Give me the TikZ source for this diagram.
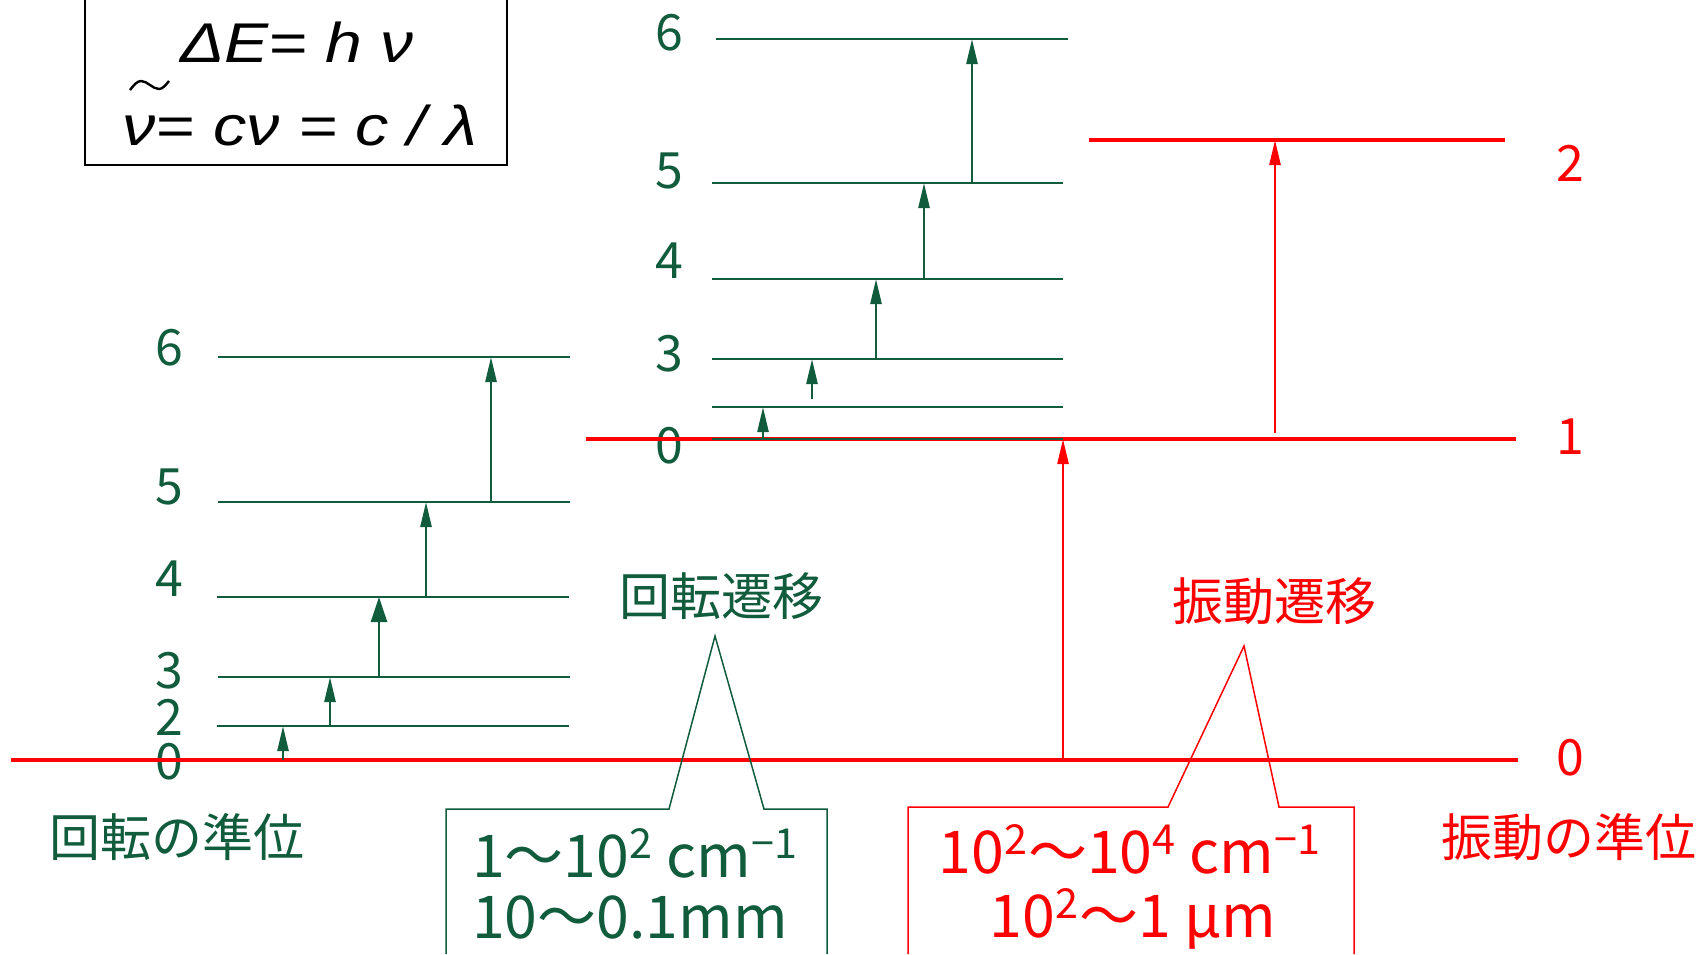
\documentclass[tikz,border=0pt]{standalone}
\usepackage{fontspec}
\setmainfont{Noto Sans CJK JP}
\newfontfamily\formfont{Liberation Sans}
\usetikzlibrary{arrows.meta}
\definecolor{rotg}{RGB}{17,92,61}
\definecolor{vibr}{RGB}{255,0,0}
\begin{document}
\begin{tikzpicture}[x=0.5pt,y=-0.5pt,
  rotlevel/.style={rotg,line width=1.35pt},
  viblevel/.style={vibr,line width=2pt},
  rotarrow/.style={rotg,line width=1.25pt,-{Triangle[length=12.5pt,width=5.5pt]}},
  rotarrowbig/.style={rotg,line width=1.25pt,-{Triangle[length=12.5pt,width=8pt]}},
  vibarrow/.style={vibr,line width=1.25pt,-{Triangle[length=12.5pt,width=5.5pt]}},
  lvlnum/.style={inner sep=0pt,font=\fontsize{25pt}{30pt}\selectfont},
  jplabel/.style={inner sep=0pt,font=\fontsize{25.5pt}{30pt}\selectfont},
  rangetext/.style={inner sep=0pt,anchor=base,font=\fontsize{29.5pt}{34pt}\selectfont},
  formula/.style={inner sep=0pt,anchor=base,font=\formfont\itshape\fontsize{28pt}{32pt}\selectfont},
  callout/.style={line width=0.75pt}
]
\useasboundingbox (0,0) rectangle (1706,954);

% formula box
\draw[line width=1.35pt] (85,0) -- (85,165) -- (507,165) -- (507,0);
\node[formula] (f1) at (297,62) {\scalebox{1.18}[1]{ΔE= h ν}};
\node[formula] (f2) at (300,145) {\scalebox{1.19}[1]{ν= cν = c / λ}};
\draw[line width=1.2pt] (130,90) sin (141,81) cos (150,85) sin (159,89) cos (169,81);

% level numbers (green)
\begin{scope}[rotg]
\node[lvlnum] (l6) at (169,348) {6};
\node[lvlnum] (l5) at (169,487) {5};
\node[lvlnum] (l4) at (169,579) {4};
\node[lvlnum] (l3) at (169,671) {3};
\node[lvlnum] (l2) at (169,717) {2};
\node[lvlnum] (l0) at (169,762) {0};
\node[lvlnum] (u6) at (669,33) {6};
\node[lvlnum] (u5) at (669,171) {5};
\node[lvlnum] (u4) at (669,261) {4};
\node[lvlnum] (u3) at (669,354) {3};
\node[lvlnum] (u0) at (669,446) {0};
\end{scope}

% rotational levels, left ladder
\draw[rotlevel] (218,357) -- (570,357);
\draw[rotlevel] (218,502) -- (570,502);
\draw[rotlevel] (217,597) -- (569,597);
\draw[rotlevel] (218,677) -- (570,677);
\draw[rotlevel] (217,726) -- (569,726);

% rotational levels, upper ladder
\draw[rotlevel] (716,39) -- (1068,39);
\draw[rotlevel] (712,183) -- (1063,183);
\draw[rotlevel] (712,279) -- (1063,279);
\draw[rotlevel] (712,359) -- (1063,359);
\draw[rotlevel] (712,407) -- (1063,407);

% vibrational levels
\draw[viblevel] (11,760) -- (1518,760);
\draw[viblevel] (586,439) -- (1516,439);
\draw[viblevel] (1089,140) -- (1505,140);
\draw[rotg,line width=0.9pt] (712,439) -- (1063,439);

% vibrational numbers
\node[lvlnum,vibr] (v2) at (1570,163) {2};
\node[lvlnum,vibr] (v1) at (1570,437) {1};
\node[lvlnum,vibr] (v0) at (1570,758) {0};

% arrow coordinates
\coordinate (a1s) at (283,760); \coordinate (a1e) at (283,726);
\coordinate (a2s) at (330,726); \coordinate (a2e) at (330,677);
\coordinate (a3s) at (379,677); \coordinate (a3e) at (379,597);
\coordinate (a4s) at (426,597); \coordinate (a4e) at (426,502);
\coordinate (a5s) at (491,502); \coordinate (a5e) at (491,357);
\coordinate (b1s) at (763,439); \coordinate (b1e) at (763,407);
\coordinate (b2s) at (812,399); \coordinate (b2e) at (812,359);
\coordinate (b3s) at (876,359); \coordinate (b3e) at (876,279);
\coordinate (b4s) at (924,279); \coordinate (b4e) at (924,183);
\coordinate (b5s) at (972,183); \coordinate (b5e) at (972,39);
\coordinate (r1s) at (1063,760); \coordinate (r1e) at (1063,439);
\coordinate (r2s) at (1275,433); \coordinate (r2e) at (1275,140);

\draw[rotarrow] (a1s) -- (a1e);
\draw[rotarrow] (a2s) -- (a2e);
\draw[rotarrowbig] (a3s) -- (a3e);
\draw[rotarrow] (a4s) -- (a4e);
\draw[rotarrow] (a5s) -- (a5e);
\draw[rotarrow] (b1s) -- (b1e);
\draw[rotarrow] (b2s) -- (b2e);
\draw[rotarrow] (b3s) -- (b3e);
\draw[rotarrow] (b4s) -- (b4e);
\draw[rotarrow] (b5s) -- (b5e);
\draw[vibarrow] (r1s) -- (r1e);
\draw[vibarrow] (r2s) -- (r2e);

% Japanese labels
\node[jplabel,rotg] (rt) at (721,596) {回転遷移};
\node[jplabel,vibr] (vt) at (1274,601) {振動遷移};
\node[jplabel,rotg] (rl) at (177,837) {回転の準位};
\node[jplabel,vibr] (vl) at (1569,837) {振動の準位};

% callouts
\draw[callout,rotg] (446,954) -- (446,809) -- (669,809) -- (715,636) -- (764,809) -- (827,809) -- (827,954);
\draw[callout,vibr] (908,954) -- (908,807) -- (1168,807) -- (1244,646) -- (1279,807) -- (1354,807) -- (1354,954);

\node[rangetext,rotg] (g1) at (635,877) {1～10\textsuperscript{2} cm\textsuperscript{−1}};
\node[rangetext,rotg] (g2) at (630,938) {10～0.1mm};
\node[rangetext,vibr] (h1) at (1130,873) {10\textsuperscript{2}～10\textsuperscript{4} cm\textsuperscript{−1}};
\node[rangetext,vibr] (h2) at (1133,937) {10\textsuperscript{2}～1 μm};
\end{tikzpicture}
\end{document}
